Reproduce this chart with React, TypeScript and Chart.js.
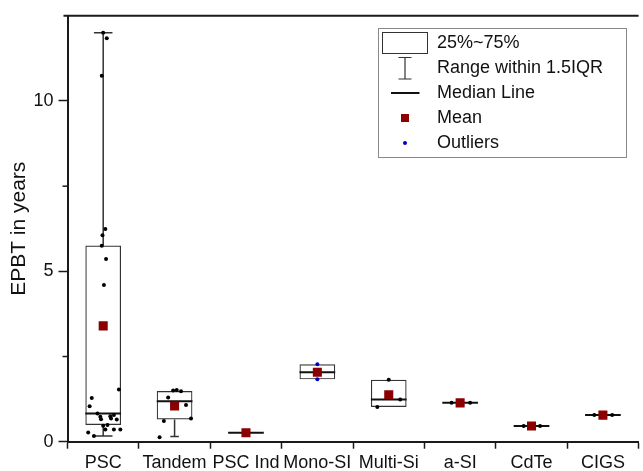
import React, { useEffect, useRef } from 'react';
import { Chart, registerables } from 'chart.js';

Chart.register(...registerables);

// ---------- data ----------
const categories = ['PSC', 'Tandem', 'PSC Ind', 'Mono-SI', 'Multi-Si', 'a-SI', 'CdTe', 'CIGS'];
const q1Values: (number | null)[] = [0.49, 0.65, null, 1.83, 1.02, null, null, null];
const q3Values: (number | null)[] = [5.76, 1.49, null, 2.27, 1.82, null, null, null];
const medianValues = [0.83, 1.19, 0.26, 2.04, 1.24, 1.14, 0.46, 0.78];
const meanValues = [3.4, 1.05, 0.26, 2.04, 1.38, 1.14, 0.46, 0.78];
const whiskerLowValues: (number | null)[] = [0.17, 0.15, null, null, null, null, null, null];
const whiskerHighValues: (number | null)[] = [12.0, null, null, null, null, null, null, null];

const pscValues = [12.0, 11.84, 10.74, 6.24, 6.06, 5.75, 5.36, 4.6, 1.53, 1.28, 1.04, 0.83, 0.73, 0.75, 0.78, 0.66, 0.68, 0.65, 0.47, 0.49, 0.36, 0.27, 0.36, 0.36, 0.17];
const pscJitter = [0, 0.05, -0.02, 0.03, -0.01, -0.02, 0.04, 0.01, 0.22, -0.16, -0.19, -0.08, -0.04, 0.1, 0.15, -0.03, 0.11, 0.19, 0, 0.06, 0.03, -0.21, 0.15, 0.24, -0.13];
const tandemValues = [1.5, 1.52, 1.48, 1.3, 1.08, 0.61, 0.68, 0.13];
const tandemJitter = [-0.02, 0.03, 0.09, -0.09, 0.16, -0.15, 0.23, -0.21];
const multiSiValues = [1.82, 1.24, 1.02];
const multiSiJitter = [0, 0.16, -0.16];
const aSiValues = [1.14, 1.14];
const aSiJitter = [-0.12, 0.14];
const cdteValues = [0.46, 0.46];
const cdteJitter = [-0.11, 0.12];
const cigsValues = [0.78, 0.78];
const cigsJitter = [-0.12, 0.13];
const monoOutlierValues = [2.27, 1.83];
const monoOutlierJitter = [0, 0];

const yMajorTicks = [0, 5, 10];
const yMinorTicks = [2.5, 7.5];
const legendLabels = ['25%~75%', 'Range within 1.5IQR', 'Median Line', 'Mean', 'Outliers'];

// ---------- styles ----------
const FONT = "'Liberation Sans', Arial, Helvetica, sans-serif";
const AXIS = '#1a1a1a';
const capFrac = [0.26, 0.12, 0.2, 0.2, 0.2, 0.2, 0.2, 0.2];

export default function App() {
  const ref = useRef<HTMLCanvasElement>(null);

  useEffect(() => {
    const canvas = ref.current;
    if (!canvas) return;
    const n = categories.length;
    const toPts = (vals: number[], jit: number[], idx: number) =>
      vals.map((v, k) => ({ x: idx + jit[k], y: v }));
    const dotPts = [
      ...toPts(pscValues, pscJitter, 0),
      ...toPts(tandemValues, tandemJitter, 1),
      ...toPts(multiSiValues, multiSiJitter, 4),
      ...toPts(aSiValues, aSiJitter, 5),
      ...toPts(cdteValues, cdteJitter, 6),
      ...toPts(cigsValues, cigsJitter, 7),
    ];
    const outlierPts = toPts(monoOutlierValues, monoOutlierJitter, 3);
    const meanPts = meanValues.map((m, i) => ({ x: i, y: m }));
    const boxData = categories.map((_, i) =>
      q1Values[i] == null ? null : [q1Values[i] as number, q3Values[i] as number]
    );

    const boxPlugin = {
      id: 'boxParts',
      afterDatasetDraw(chart: any, args: any) {
        if (args.index !== 0) return;
        const ctx = chart.ctx;
        const xs = chart.scales.x;
        const ys = chart.scales.y;
        const cw = (xs.right - xs.left) / n;
        ctx.save();
        categories.forEach((_, i) => {
          const cx = xs.getPixelForValue(i);
          ctx.strokeStyle = '#333';
          ctx.lineWidth = 1.5;
          const hi = whiskerHighValues[i];
          const lo = whiskerLowValues[i];
          const capW = cw * capFrac[i];
          if (hi != null && q3Values[i] != null) {
            const y0 = ys.getPixelForValue(q3Values[i]);
            const y1 = ys.getPixelForValue(hi);
            ctx.beginPath();
            ctx.moveTo(cx, y0);
            ctx.lineTo(cx, y1);
            ctx.moveTo(cx - capW / 2, y1);
            ctx.lineTo(cx + capW / 2, y1);
            ctx.stroke();
          }
          if (lo != null && q1Values[i] != null) {
            const y0 = ys.getPixelForValue(q1Values[i]);
            const y1 = ys.getPixelForValue(lo);
            ctx.beginPath();
            ctx.moveTo(cx, y0);
            ctx.lineTo(cx, y1);
            ctx.moveTo(cx - capW / 2, y1);
            ctx.lineTo(cx + capW / 2, y1);
            ctx.stroke();
          }
          const ym = ys.getPixelForValue(medianValues[i]);
          ctx.strokeStyle = '#111';
          ctx.lineWidth = 2;
          ctx.beginPath();
          ctx.moveTo(cx - cw * 0.25, ym);
          ctx.lineTo(cx + cw * 0.25, ym);
          ctx.stroke();
        });
        ctx.restore();
      },
      afterDraw(chart: any) {
        const ctx = chart.ctx;
        const ca = chart.chartArea;
        const ys = chart.scales.y;
        ctx.save();
        // top frame line
        ctx.strokeStyle = AXIS;
        ctx.lineWidth = 2;
        ctx.beginPath();
        ctx.moveTo(ca.left - 4, ca.top);
        ctx.lineTo(ca.right, ca.top);
        ctx.stroke();
        // minor y ticks
        ctx.lineWidth = 1.5;
        yMinorTicks.forEach((v) => {
          const y = ys.getPixelForValue(v);
          ctx.beginPath();
          ctx.moveTo(ca.left - 5, y);
          ctx.lineTo(ca.left, y);
          ctx.stroke();
        });
        // legend
        const lx = 378.5, ly = 28.5, lw = 248, lh = 129;
        ctx.fillStyle = '#fff';
        ctx.fillRect(lx, ly, lw, lh);
        ctx.strokeStyle = '#888';
        ctx.lineWidth = 1;
        ctx.strokeRect(lx, ly, lw, lh);
        const rows = [43, 68, 93, 118, 143];
        const sx = 405;
        // box sample
        ctx.strokeStyle = '#333';
        ctx.lineWidth = 1;
        ctx.strokeRect(382.5, 32.5, 45, 21);
        // range sample
        ctx.lineWidth = 1.2;
        ctx.beginPath();
        ctx.moveTo(sx, 57.5);
        ctx.lineTo(sx, 79);
        ctx.moveTo(sx - 6.5, 57.5);
        ctx.lineTo(sx + 6.5, 57.5);
        ctx.moveTo(sx - 6.5, 79);
        ctx.lineTo(sx + 6.5, 79);
        ctx.stroke();
        // median sample
        ctx.strokeStyle = '#111';
        ctx.lineWidth = 2;
        ctx.beginPath();
        ctx.moveTo(391, rows[2]);
        ctx.lineTo(419.5, rows[2]);
        ctx.stroke();
        // mean sample
        ctx.fillStyle = '#8B0000';
        ctx.fillRect(sx - 4, rows[3] - 4, 8, 8);
        // outlier sample
        ctx.fillStyle = '#0000CC';
        ctx.beginPath();
        ctx.arc(sx, rows[4], 2, 0, Math.PI * 2);
        ctx.fill();
        // texts
        ctx.fillStyle = '#111';
        ctx.font = `18px ${FONT}`;
        ctx.textBaseline = 'middle';
        ctx.textAlign = 'left';
        legendLabels.forEach((t, k) => ctx.fillText(t, 437, rows[k]));
        ctx.restore();
      },
    };

    const chart = new Chart(canvas, {
      type: 'bar',
      data: {
        labels: categories,
        datasets: [
          {
            type: 'bar',
            data: boxData as any,
            backgroundColor: 'rgba(255,255,255,0)',
            borderColor: '#333',
            borderWidth: 1.2,
            borderSkipped: false,
            barPercentage: 1,
            categoryPercentage: 0.5,
            grouped: false,
            order: 4,
            xAxisID: 'x',
          } as any,
          {
            type: 'scatter',
            data: dotPts,
            xAxisID: 'xj',
            backgroundColor: '#000',
            borderWidth: 0,
            pointRadius: 2,
            order: 3,
          } as any,
          {
            type: 'scatter',
            data: outlierPts,
            xAxisID: 'xj',
            backgroundColor: '#0000CC',
            borderWidth: 0,
            pointRadius: 2,
            order: 2,
          } as any,
          {
            type: 'scatter',
            data: meanPts,
            xAxisID: 'xj',
            backgroundColor: '#8B0000',
            borderWidth: 0,
            pointStyle: 'rect',
            pointRadius: 6.4,
            order: 1,
          } as any,
        ],
      },
      options: {
        responsive: false,
        devicePixelRatio: 1,
        animation: false,
        layout: { padding: { top: 12.7, right: 0, left: 0, bottom: 0 } },
        plugins: { legend: { display: false }, tooltip: { enabled: false } },
        scales: {
          x: {
            type: 'category',
            offset: true,
            grid: { display: true, drawOnChartArea: false, tickLength: 7, tickColor: AXIS, tickWidth: 1.5 },
            border: { display: true, color: AXIS, width: 2 },
            ticks: { color: '#111', font: { size: 18, family: FONT }, padding: 4, maxRotation: 0, autoSkip: false },
            afterFit: (s: any) => { s.height = 29.3; },
          },
          xj: {
            type: 'linear',
            display: false,
            offset: false,
            grid: { offset: false },
            min: -0.5,
            max: n - 0.5,
          },
          y: {
            type: 'linear',
            min: 0,
            max: 12.5,
            grid: { display: true, drawOnChartArea: false, tickLength: 9, tickColor: AXIS, tickWidth: 1.5 },
            border: { display: true, color: AXIS, width: 2 },
            ticks: {
              stepSize: 5,
              includeBounds: false,
              color: '#111',
              font: { size: 18, family: FONT },
              padding: 5,
              callback: (v: any) => (yMajorTicks.includes(Number(v)) ? String(v) : ''),
            },
            title: {
              display: true,
              text: 'EPBT in years',
              color: '#111',
              font: { size: 21, family: FONT },
              padding: { top: 7, bottom: 0 },
            },
            afterFit: (s: any) => { s.width = 67.5; },
          },
        },
      } as any,
      plugins: [boxPlugin],
    });
    return () => chart.destroy();
  }, []);

  return (
    <div style={{ position: 'absolute', left: 0, top: 0, width: 643, height: 471, overflow: 'hidden', background: '#fff' }}>
      <canvas ref={ref} width={645} height={471} style={{ display: 'block', width: 645, height: 471 }} />
    </div>
  );
}
